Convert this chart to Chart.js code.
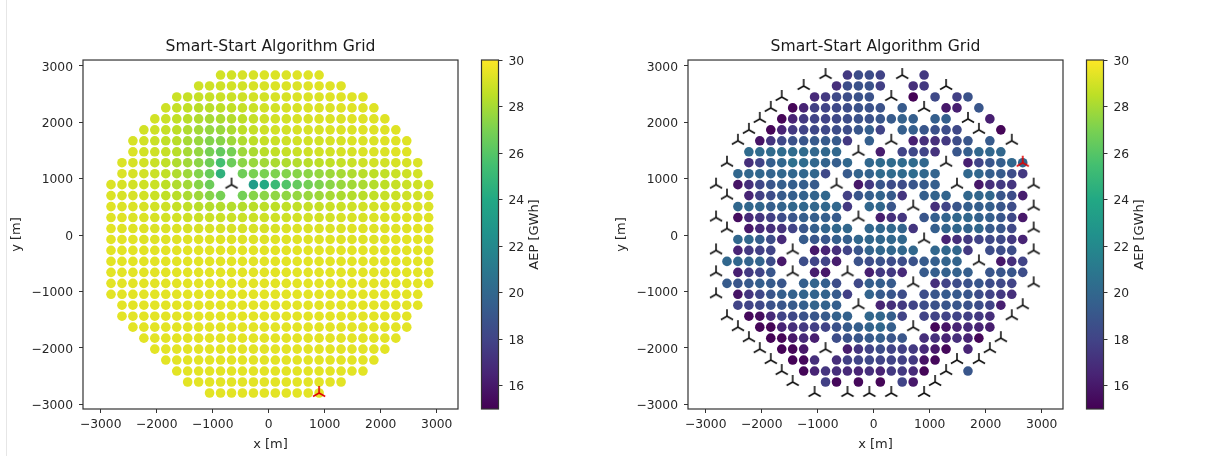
<!DOCTYPE html>
<html>
<head>
<meta charset="utf-8">
<script src="https://cdn.jsdelivr.net/npm/chart.js@4"></script>
<style>
html,body{margin:0;padding:0;background:#fff;width:1212px;height:456px;overflow:hidden}
canvas{position:absolute;top:0}
#edge{position:absolute;left:6px;top:0;width:1px;height:456px;background:#e6e6e6}
</style>
</head>
<body>
<div id="edge"></div>
<canvas id="mainA" width="470" height="456" style="left:0"></canvas>
<canvas id="barA" width="90" height="456" style="left:470px"></canvas>
<canvas id="mainB" width="470" height="456" style="left:605px"></canvas>
<canvas id="barB" width="90" height="456" style="left:1075px"></canvas>
<script>
const _ = null;
const chartTitle = 'Smart-Start Algorithm Grid';
const xLabel = 'x [m]', yLabel = 'y [m]', barLabel = 'AEP [GWh]';
const axisTicks = [-3000,-2000,-1000,0,1000,2000,3000];
const barTicks = [16,18,20,22,24,26,28,30];
const barRange = [15,30];
const viridisStops = ['#440154','#482475','#414487','#355f8d','#2a788e','#21918c','#22a884','#44bf70','#7ad151','#bddf26','#fde725'];

const gridX = [-2816,-2620,-2425,-2229,-2034,-1838,-1642,-1447,-1251,-1056,-860,-664,-469,-273,-78,118,314,509,705,900,1096,1292,1487,1683,1878,2074,2270,2465,2661,2856];
const gridY = [2840,2646,2451,2257,2062,1868,1674,1479,1285,1090,896,702,507,313,118,-76,-270,-465,-659,-854,-1048,-1242,-1437,-1631,-1826,-2020,-2214,-2409,-2603,-2798];

const leftRowStart = [10,8,6,5,4,3,2,2,1,1,0,0,0,0,0,0,0,0,0,0,0,1,1,2,3,4,5,6,7,9];
const leftRows = [
[29.0,29.0,29.1,29.1,29.2,29.2,29.2,29.3,29.3,29.3],
[28.9,28.9,28.9,29.0,29.0,29.1,29.1,29.2,29.2,29.2,29.3,29.3,29.3,29.3],
[28.8,28.7,28.7,28.7,28.8,28.8,28.9,29.0,29.0,29.1,29.1,29.2,29.2,29.2,29.3,29.3,29.3,29.3],
[28.9,28.7,28.6,28.4,28.4,28.5,28.6,28.7,28.8,29.0,29.0,29.1,29.1,29.2,29.2,29.2,29.3,29.3,29.3,29.3],
[29.0,28.8,28.6,28.4,28.2,28.0,28.1,28.3,28.5,28.7,28.9,29.0,29.0,29.1,29.1,29.2,29.2,29.2,29.3,29.3,29.3,29.3],
[29.0,28.9,28.7,28.5,28.2,27.9,27.6,27.7,28.1,28.5,28.7,28.9,29.0,29.0,29.1,29.1,29.1,29.2,29.2,29.2,29.3,29.3,29.3,29.3],
[29.1,29.0,28.8,28.6,28.4,28.0,27.7,27.2,27.3,27.8,28.2,28.5,28.7,28.8,28.9,29.0,29.0,29.0,29.1,29.1,29.2,29.2,29.2,29.3,29.3,29.3],
[29.2,29.0,28.9,28.7,28.4,28.0,27.6,26.9,26.4,26.9,27.8,28.1,28.4,28.6,28.7,28.8,28.9,29.0,29.0,29.1,29.1,29.2,29.2,29.2,29.3,29.3],
[29.2,29.1,29.0,28.8,28.6,28.2,27.9,27.4,26.7,25.5,26.6,27.4,27.7,27.9,28.1,28.2,28.3,28.4,28.5,28.6,28.7,28.8,28.9,29.0,29.0,29.1,29.1,29.2],
[29.2,29.1,29.0,28.8,28.6,28.2,27.8,27.2,26.5,24.6,_,26.7,27.0,27.0,27.1,27.2,27.3,27.4,27.6,27.8,28.0,28.2,28.4,28.5,28.6,28.8,28.9,29.0],
[29.2,29.1,29.0,28.9,28.8,28.5,28.2,27.9,27.3,26.6,_,_,_,23.3,24.1,25.1,25.9,26.4,26.8,27.1,27.4,27.7,27.9,28.1,28.3,28.5,28.7,28.8,28.9,29.0],
[29.2,29.1,29.1,29.0,28.8,28.6,28.4,28.1,27.8,27.3,26.9,_,26.8,27.3,27.4,27.5,27.5,27.6,27.7,27.8,28.0,28.1,28.3,28.4,28.6,28.7,28.8,28.9,29.0,29.1],
[29.3,29.2,29.2,29.1,29.0,28.9,28.7,28.6,28.4,28.3,28.3,28.3,28.3,28.4,28.5,28.5,28.6,28.6,28.7,28.7,28.8,28.8,28.9,29.0,29.0,29.1,29.1,29.2,29.2,29.2],
[29.3,29.3,29.2,29.2,29.1,29.0,29.0,28.9,28.8,28.8,28.8,28.8,28.8,28.8,28.9,28.9,28.9,29.0,29.0,29.0,29.0,29.1,29.1,29.1,29.2,29.2,29.2,29.3,29.3,29.3],
[29.4,29.3,29.3,29.3,29.2,29.2,29.2,29.1,29.1,29.1,29.1,29.1,29.1,29.1,29.1,29.1,29.2,29.2,29.2,29.2,29.2,29.2,29.3,29.3,29.3,29.3,29.3,29.3,29.4,29.4],
[29.4,29.4,29.4,29.3,29.3,29.3,29.3,29.3,29.3,29.3,29.3,29.3,29.3,29.3,29.3,29.3,29.3,29.3,29.3,29.3,29.3,29.3,29.3,29.3,29.3,29.4,29.4,29.4,29.4,29.4],
[29.4,29.4,29.4,29.4,29.4,29.4,29.4,29.4,29.4,29.4,29.4,29.4,29.4,29.4,29.4,29.4,29.4,29.4,29.4,29.4,29.4,29.4,29.4,29.4,29.4,29.4,29.4,29.4,29.4,29.4],
[29.4,29.4,29.4,29.4,29.4,29.4,29.4,29.4,29.4,29.4,29.4,29.4,29.4,29.4,29.4,29.4,29.4,29.4,29.4,29.4,29.4,29.4,29.4,29.4,29.4,29.4,29.4,29.4,29.4,29.4],
[29.4,29.4,29.4,29.4,29.4,29.4,29.4,29.4,29.4,29.4,29.4,29.4,29.4,29.4,29.4,29.4,29.4,29.4,29.4,29.4,29.4,29.4,29.4,29.4,29.4,29.4,29.4,29.4,29.4,29.4],
[29.4,29.4,29.4,29.4,29.4,29.4,29.4,29.4,29.4,29.4,29.4,29.4,29.4,29.4,29.4,29.4,29.4,29.4,29.4,29.4,29.4,29.4,29.4,29.4,29.4,29.4,29.4,29.4,29.4,29.4],
[29.4,29.4,29.4,29.4,29.4,29.4,29.4,29.4,29.4,29.4,29.4,29.4,29.4,29.4,29.4,29.4,29.4,29.4,29.4,29.4,29.4,29.4,29.4,29.4,29.4,29.4,29.4,29.4,29.4],
[29.4,29.4,29.4,29.4,29.4,29.4,29.4,29.4,29.4,29.4,29.4,29.4,29.4,29.4,29.4,29.4,29.4,29.4,29.4,29.4,29.4,29.4,29.4,29.4,29.4,29.4,29.4,29.4],
[29.4,29.4,29.4,29.4,29.4,29.4,29.4,29.4,29.4,29.4,29.4,29.4,29.4,29.4,29.4,29.4,29.4,29.4,29.4,29.4,29.4,29.4,29.4,29.4,29.4,29.4,29.4],
[29.4,29.4,29.4,29.4,29.4,29.4,29.4,29.4,29.4,29.4,29.4,29.4,29.4,29.4,29.4,29.4,29.4,29.4,29.4,29.4,29.4,29.4,29.4,29.4,29.4,29.4],
[29.4,29.4,29.4,29.4,29.4,29.4,29.4,29.4,29.4,29.4,29.4,29.4,29.4,29.4,29.4,29.4,29.4,29.4,29.4,29.4,29.4,29.4,29.4,29.4],
[29.4,29.4,29.4,29.4,29.4,29.4,29.4,29.4,29.4,29.4,29.4,29.4,29.4,29.4,29.4,29.4,29.4,29.4,29.4,29.4,29.4,29.4],
[29.4,29.4,29.4,29.4,29.4,29.4,29.4,29.4,29.4,29.4,29.4,29.4,29.4,29.4,29.4,29.4,29.4,29.4,29.4,29.4],
[29.4,29.4,29.4,29.4,29.4,29.4,29.4,29.4,29.4,29.4,29.4,29.4,29.4,29.4,29.4,29.4,29.4,29.4],
[29.4,29.4,29.4,29.4,29.4,29.4,29.4,29.4,29.4,29.4,29.4,29.4,29.4,29.4,29.4],
[29.4,29.4,29.4,29.4,29.4,29.4,29.4,29.4,29.4,29.4,29.4]
];
const leftTurbineCol = [11];
const leftTurbineRow = [10];
const leftActiveCol = [19];
const leftActiveRow = [29];

const rightRowStart = [12,11,9,7,6,5,4,3,3,2,2,3,2,2,3,2,2,1,2,1,2,2,3,4,5,6,7,8,10,0];
const rightRows = [
[17.5,18.5,18.5,18,_,_,_,17.5],
[17,18.5,18.8,18.8,17.8,_,_,17,17.5],
[16.8,17.5,18.3,18.5,18.8,18.8,_,_,_,15.1,_,18.3,_,17.8,18.8],
[15.2,16.5,17.8,18,18.3,18.5,18.8,18.8,18.8,_,19.3,_,_,_,16,16.3,_,19],
[15.2,16.5,17.5,18,18,18.3,18.5,18.8,18.8,19,19.3,19.7,19.5,_,19.5,19.5,_,_,_,16.3],
[15.2,16.5,17.5,18,18.2,18.3,18.5,18.5,19,19.5,18,_,19.5,19.5,19,18.7,18.5,18.3,_,_,_,15.2],
[15.8,17.3,18.2,18.8,19,19.2,19.3,19.3,17.5,_,19.5,_,_,_,16.3,17,17,17.5,18.5,19,_,19.3],
[20.2,20.2,20.2,20.3,20.3,20.2,20,20,20,_,_,_,16.2,_,18,18.2,18,17.2,_,19,19.5,20,20,20],
[17,18,19.5,20,20.5,20.3,20,19.8,19.5,20,_,20,20.2,20.2,20.2,20.2,20,_,_,_,16.3,18,19,19.5,20,20],
[20,20,20,19.8,20,20,20,20,18.3,_,19.3,19.8,19.8,20.2,20.2,20.2,20.3,20,19.8,_,_,20,20,19.5,19.3,18.5,17.5],
[15.8,17,18.2,19,19.5,19.5,19.5,19.3,_,_,_,16,17.5,19,18.5,18.5,19,19.3,19.5,_,_,_,16,17,17.5,17.3],
[16.5,17.8,18.5,19.3,19.5,19.7,19.8,20,_,17.8,19,19.5,19.8,19.3,17.3,_,19.5,19.8,19.8,_,20,20,20,19,18.5,16.2],
[20,20,20,19.5,19.8,20,20,20,20,20,17.5,_,20,20,19,_,_,_,17,18,19,19.5,19.5,19.5,19,18.5],
[15.5,16.8,17.3,17.8,18.5,19,19.5,19.5,19.5,19.3,_,_,_,16.2,17,17.3,_,19,19.5,19.8,20,20,19.7,19.5,19,18.3,16],
[16,16.8,17,17.2,18,19,19.5,19.8,20,20,_,20,20,20,19.8,17.3,_,19.5,19.8,20,19.8,20,19.3,19,18.3],
[20,20,19.5,18.5,16.8,_,19.3,19,19,19.5,19.5,20,20,20,20,20,_,_,_,16.5,17,17.5,18,18.3,18.3,17.5,16.5],
[16.5,17.5,17.8,18,_,_,_,16,16.5,17,18,19,19.8,20,20,20,20,_,20,20,20,17.5,_,18.5,18.5,18.5],
[20,20,19.8,19.8,18.5,16,_,18.5,18,18,16.2,_,18.8,18.5,18.8,18.5,18.5,18.8,19.3,19.5,19.8,19.8,_,_,_,16,17,18],
[16.3,17.5,18,19,_,_,_,16.2,16,_,_,_,16.3,17.5,17.5,16.8,_,19.3,19.5,19.7,19.7,19.5,_,19,19,19,18.5],
[19.3,19,19.2,19.5,19.3,19,_,19.5,19.8,19.5,18.5,_,18.3,19.5,19.5,19.3,_,_,_,17,18,18.5,18.8,19,18.5,18.3,18],
[15.8,17.3,18.2,19,19.5,19.7,19.8,19.8,19.8,19.3,17.8,_,19.8,19.3,19,18.5,_,18.5,19,19.3,19.2,19,18.5,18,17.5,17],
[18,18,18.3,18.8,19,19.3,19.5,19.8,19.8,19.5,_,_,_,16.5,17,17.5,18,18.5,18.8,19,19,18.8,18.5,18,16.3],
[15.3,15.5,16.8,18,18.3,18.8,19,19.3,19.7,19.7,_,20,20,19.5,18,_,18,18,18,18,17.8,17.5,17],
[15.2,15.2,16.5,17,17.5,17.8,18,18.8,19.3,19.5,19.8,20,19.5,_,_,_,15.2,15.8,16.5,16.8,16.5,16.2],
[15.1,15.2,16,16.8,16.3,_,18.5,18.8,19,19.3,19.5,19,19,_,17,17,16.5,17,16.5,15.2],
[15.1,15.2,16,_,_,_,16.2,17.3,18,18.5,18,17.8,17.5,16.8,16,15.3,_,16.5],
[15.1,15.3,17,_,17,17.8,18,18.2,18,18,17.8,17.5,15.8,15.3],
[15.2,16.5,17.3,17,16.8,16.5,17,16.5,17.5,17.5,16.8,15.2,_,_,_,19],
[17.8,15.3,_,15.3,_,15.2,_,18,16],
[]
];
const rightTurbineCol = [10,17,8,21,6,16,5,19,4,23,3,24,2,16,27,13,1,21,0,11,22,29,1,18,29,0,13,1,29,19,0,7,29,24,0,7,12,18,29,0,13,28,1,27,2,18,3,26,4,10,25,5,22,24,6,21,7,20,9,12,14,16,19];
const rightTurbineRow = [0,0,1,1,2,2,3,3,4,4,5,5,6,6,6,7,8,8,10,10,10,10,11,12,12,13,13,14,14,15,16,16,16,17,18,18,18,19,19,20,21,21,22,22,23,23,24,24,25,25,25,26,26,26,27,27,28,28,29,29,29,29,29];
const rightActiveCol = [28];
const rightActiveRow = [8];

function hex(h){return [1,3,5].map(i=>parseInt(h.substr(i,2),16));}
function viridis(t){
  t=Math.max(0,Math.min(1,t));
  const p=t*(viridisStops.length-1), i=Math.min(Math.floor(p),viridisStops.length-2), f=p-i;
  const a=hex(viridisStops[i]), b=hex(viridisStops[i+1]);
  return 'rgb('+a.map((v,k)=>Math.round(v+(b[k]-v)*f)).join(',')+')';
}
function triMarker(color){
  const c=document.createElement('canvas'); c.width=c.height=18;
  const g=c.getContext('2d'); g.strokeStyle=color; g.lineWidth=1.6; g.lineCap='butt';
  const r=7, m=9;
  [[0,-r],[-r*0.866,r*0.5],[r*0.866,r*0.5]].forEach(d=>{g.beginPath();g.moveTo(m,m);g.lineTo(m+d[0],m+d[1]);g.stroke();});
  return c;
}
function dots(starts,rows){
  const out=[];
  rows.forEach((row,r)=>row.forEach((v,i)=>{ if(v!==null) out.push({x:gridX[starts[r]+i],y:gridY[r],v}); }));
  return out;
}
function marks(cols,rowsIdx){ return cols.map((c,i)=>({x:gridX[c],y:gridY[rowsIdx[i]]})); }

Chart.defaults.font.family='"DejaVu Sans"';
Chart.defaults.font.size=12.3;
Chart.defaults.color='#262626';
const INK='#333';

const framePlugin={id:'frame',afterDraw(ch){
  const a=ch.chartArea,g=ch.ctx; g.save(); g.strokeStyle=INK; g.lineWidth=1.2;
  g.strokeRect(a.left,a.top,a.right-a.left,a.bottom-a.top); g.restore();
}};
function noPad(s){s.paddingLeft=s.paddingRight=s.paddingTop=s.paddingBottom=0;}
function tickFmt(v){return String(v).replace('-','\u2212');}

function mainChart(id,points,tCols,tRows,aCols,aRows){
  new Chart(document.getElementById(id),{
    type:'scatter',
    data:{datasets:[
      {data:marks(aCols,aRows),pointStyle:triMarker('#e00000'),pointRadius:9,order:1},
      {data:marks(tCols,tRows),pointStyle:triMarker('#111111'),pointRadius:9,order:2},
      {data:points,pointRadius:4.8,pointBorderWidth:0,borderWidth:0,
       backgroundColor:c=>viridis((c.raw.v-barRange[0])/(barRange[1]-barRange[0])),order:3}
    ]},
    options:{
      responsive:false,animation:false,devicePixelRatio:1,
      layout:{padding:{right:12,left:0,top:0,bottom:0}},
      plugins:{legend:{display:false},tooltip:{enabled:false},
        title:{display:true,text:chartTitle,fullSize:false,color:'#1a1a1a',
          font:{size:15.6,weight:'normal',lineHeight:1.2},padding:{top:37.5,bottom:3.8}}},
      scales:{
        x:{type:'linear',min:-3316,max:3380,
          afterBuildTicks:s=>{s.ticks=axisTicks.map(v=>({value:v}));},
          afterFit:s=>{s.height=47;noPad(s);},
          grid:{display:true,drawOnChartArea:false,drawTicks:true,tickLength:4,color:INK},
          border:{display:false},
          ticks:{autoSkip:false,maxRotation:0,padding:4.5,callback:tickFmt},
          title:{display:true,text:xLabel,font:{size:13,lineHeight:1.2},padding:{top:0,bottom:3.4}}},
        y:{type:'linear',min:-3082,max:3106,
          afterBuildTicks:s=>{s.ticks=axisTicks.map(v=>({value:v}));},
          afterFit:s=>{s.width=83;noPad(s);},
          grid:{display:true,drawOnChartArea:false,drawTicks:true,tickLength:4,color:INK},
          border:{display:false},
          ticks:{autoSkip:false,maxRotation:0,padding:6,labelOffset:1.5,callback:tickFmt},
          title:{display:true,text:yLabel,font:{size:13,lineHeight:1.2},padding:{top:9.2,bottom:0}}}
      }
    },
    plugins:[framePlugin]
  });
}
const barLabelPlugin={id:'barLabel',afterDraw(ch){
  const a=ch.chartArea,g=ch.ctx; g.save();
  g.translate(65,(a.top+a.bottom)/2); g.rotate(-Math.PI/2);
  g.fillStyle='#262626'; g.font='13px "DejaVu Sans"'; g.textAlign='center'; g.textBaseline='middle';
  g.fillText(barLabel,0,0); g.restore();
}};
function barChart(id){
  new Chart(document.getElementById(id),{
    type:'bar',
    data:{labels:[barLabel],datasets:[{data:[barRange],barPercentage:1,categoryPercentage:1,borderWidth:0,borderSkipped:false,
      backgroundColor:c=>{
        const a=c.chart.chartArea; if(!a) return viridisStops[5];
        const gr=c.chart.ctx.createLinearGradient(0,a.bottom,0,a.top);
        viridisStops.forEach((h,i)=>gr.addColorStop(i/(viridisStops.length-1),h));
        return gr;
      }}]},
    options:{
      responsive:false,animation:false,devicePixelRatio:1,
      layout:{padding:{left:11.5,top:60,bottom:47,right:0}},
      plugins:{legend:{display:false},tooltip:{enabled:false},title:{display:false}},
      scales:{
        x:{type:'category',display:false,offset:true},
        y:{type:'linear',position:'right',min:barRange[0],max:barRange[1],
          afterBuildTicks:s=>{s.ticks=barTicks.map(v=>({value:v}));},
          afterFit:s=>{s.width=61.5;noPad(s);},
          grid:{display:true,drawOnChartArea:false,drawTicks:true,tickLength:4,color:INK},
          border:{display:false},
          ticks:{autoSkip:false,maxRotation:0,padding:6,labelOffset:1.5,callback:tickFmt}}
      }
    },
    plugins:[framePlugin,barLabelPlugin]
  });
}
mainChart('mainA',dots(leftRowStart,leftRows),leftTurbineCol,leftTurbineRow,leftActiveCol,leftActiveRow);
barChart('barA');
mainChart('mainB',dots(rightRowStart,rightRows),rightTurbineCol,rightTurbineRow,rightActiveCol,rightActiveRow);
barChart('barB');
</script>
</body>
</html>
